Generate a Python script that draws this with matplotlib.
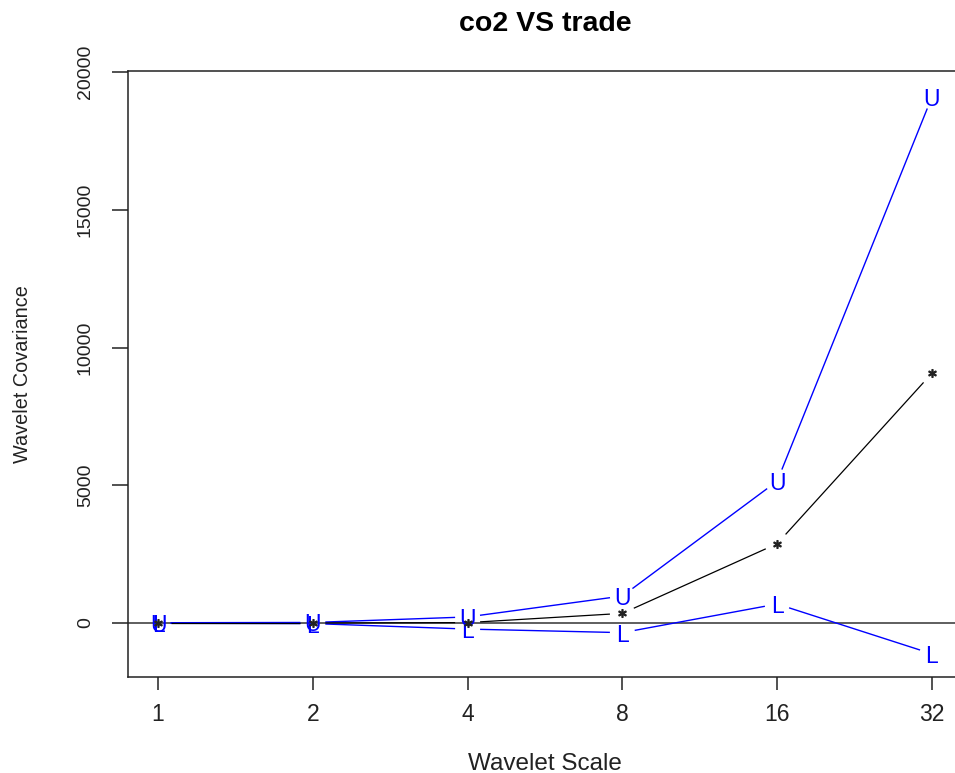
import numpy as np
import matplotlib
matplotlib.use("Agg")
import matplotlib.pyplot as plt
from matplotlib.ticker import NullLocator, FixedLocator, FixedFormatter

plt.rcParams['font.family'] = ['Liberation Sans', 'DejaVu Sans']

# ---- data ----
scales = [1, 2, 4, 8, 16, 32]
scale_labels = ["1", "2", "4", "8", "16", "32"]
covariance = [0, 0, 15, 350, 2880, 9070]
upper = [10, 20, 220, 980, 5150, 19100]
lower = [-10, -20, -220, -350, 690, -1120]
yticks = [0, 5000, 10000, 15000, 20000]
ytick_labels = ["0", "5000", "10000", "15000", "20000"]
title = "co2 VS trade"
xlabel = "Wavelet Scale"
ylabel = "Wavelet Covariance"

W, H = 955, 773
fig = plt.figure(figsize=(W / 100, H / 100), dpi=100)
ax = fig.add_axes([128 / W, (H - 677) / H, (962 - 128) / W, (677 - 71) / H])

ax.set_xscale('log', base=2)
ax.set_xlim(2 ** -0.194, 2 ** 5.194)
ax.set_ylim(-1960, 20040)

ax.xaxis.set_major_locator(FixedLocator(scales))
ax.xaxis.set_major_formatter(FixedFormatter(scale_labels))
ax.xaxis.set_minor_locator(NullLocator())
ax.yaxis.set_major_locator(FixedLocator(yticks))
ax.yaxis.set_major_formatter(FixedFormatter(ytick_labels))

for s in ax.spines.values():
    s.set_linewidth(1.1)
    s.set_color('#222222')

ax.tick_params(axis='x', direction='out', length=9, width=1.1, pad=10,
               labelsize=16.5, colors='#222222')
ax.tick_params(axis='y', direction='out', length=11.5, width=1.1, pad=13,
               labelsize=14, labelrotation=90, colors='#222222')
for lab in ax.get_yticklabels():
    lab.set_va('center')
    lab.set_ha('right')

ax.axhline(0, color='#333333', lw=1.1, zorder=1)

GAP = 12.5  # pixels, R type="b" gap around points


def gapped_line(xs, ys, color, lw):
    pts = ax.transData.transform(np.column_stack([xs, ys]))
    inv = ax.transData.inverted()
    for i in range(len(pts) - 1):
        p0, p1 = pts[i], pts[i + 1]
        d = p1 - p0
        L = np.hypot(*d)
        if L <= 2 * GAP:
            continue
        u = d / L
        q = inv.transform(np.vstack([p0 + u * GAP, p1 - u * GAP]))
        ax.plot(q[:, 0], q[:, 1], color=color, lw=lw, solid_capstyle='butt', zorder=2)


gapped_line(scales, upper, 'blue', 1.0)
gapped_line(scales, lower, 'blue', 1.0)
gapped_line(scales, covariance, 'black', 0.9)

for x, y in zip(scales, upper):
    ax.text(x, y, "U", color='blue', fontsize=16.5, ha='center',
            va='center_baseline', zorder=3)
for x, y in zip(scales, lower):
    ax.text(x, y, "L", color='blue', fontsize=16.5, ha='center',
            va='center_baseline', zorder=3)
ax.plot(scales, covariance, linestyle='none', marker='$*$', ms=5.5,
        color='#222222', zorder=4)

fig.text(545 / W, 1 - 30.7 / H, title, fontsize=20.5, fontweight='bold',
         ha='center', va='baseline', color='black')
fig.text(545 / W, 1 - 770 / H, xlabel, fontsize=17.5, ha='center',
         va='baseline', color='#222222')
fig.text(23 / W, 1 - 374 / H, ylabel, fontsize=14.3, ha='center',
         va='center', rotation=90, color='#222222')

fig.savefig("out.png", dpi=100)
